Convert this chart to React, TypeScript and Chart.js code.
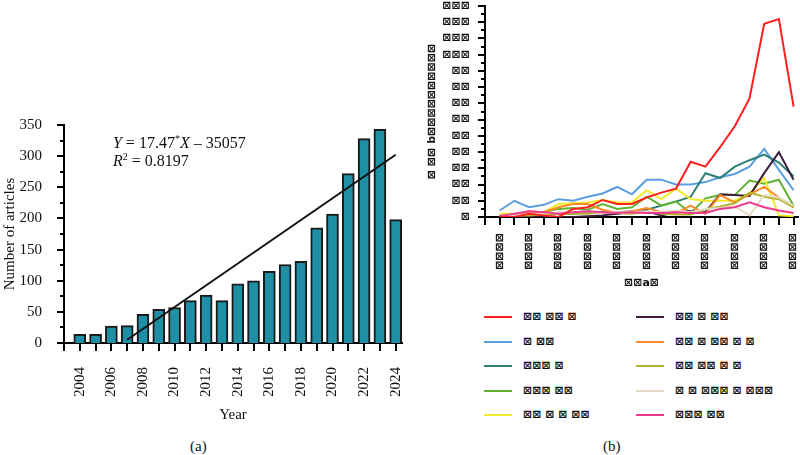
import React, { useEffect, useRef } from "react";
import { Chart, registerables } from "chart.js";

Chart.register(...registerables);

// ---------- Panel (a): articles published per year ----------
const years = [2004, 2005, 2006, 2007, 2008, 2009, 2010, 2011, 2012, 2013, 2014, 2015, 2016, 2017, 2018, 2019, 2020, 2021, 2022, 2023, 2024];
const articleCounts = [14, 14, 27, 28, 46, 54, 57, 68, 77, 68, 95, 100, 115, 126, 131, 185, 207, 272, 328, 343, 198];
const trendSlope = 17.47;
const trendIntercept = -35057;
const trendR2 = 0.8197;
const trendFrom = 2007;

// ---------- Panel (b): keyword frequency per year ----------
const kwRed = [0, 0, 2, 1, 0, 5, 6, 10.5, 8, 8, 12, 15, 17.5, 34, 31, 43, 56, 73, 119, 122, 68];
const kwBlue = [4, 10, 6, 7.5, 11, 10, 12.5, 14.5, 18.5, 14, 23, 23, 20, 20, 21.5, 24.5, 26.5, 31, 42, 29, 16.5];
const kwTeal = [1, 1, 1, 1, 2, 2, 3, 3, 3, 3.5, 4.5, 7, 9.5, 12.5, 27, 24, 31, 35, 38.5, 33.5, 25];
const kwGreen = [0.5, 1, 2, 3, 5, 5.5, 4.5, 8, 5, 6, 12.5, 7, 9.5, 2.5, 11.5, 13.5, 13.5, 22.5, 20.5, 23, 7];
const kwYellow = [2, 2, 3, 3, 8, 8.5, 9, 10.5, 9, 9, 16.5, 11, 17.5, 11, 10, 10, 10, 14.5, 24, 1, 0.5];
const kwPurple = [0, 0, 0, 0, 0, 0, 0.5, 1, 2, 3, 3.5, 1, 3, 3.5, 3, 14, 13.5, 13, 27, 40, 23];
const kwOrange = [1, 1.5, 3.5, 3, 6, 8, 8, 4.5, 2.5, 3.5, 5.5, 3, 2.5, 7, 2, 13.5, 9, 14, 18.5, 12, 6];
const kwOlive = [1, 1, 1, 1.5, 2, 2, 2, 3, 2.5, 2, 3, 2, 1.5, 1.5, 5, 6.5, 8.5, 15, 12.5, 11, 6];
const kwBeige = [1, 1, 2, 2, 3, 3, 3.5, 2.5, 3, 3, 3.5, 3, 4, 3, 5, 5.5, 6.5, 1, 13.5, 12, 7];
const kwPink = [0.5, 2, 3.5, 3, 2, 3, 3.5, 3, 2.5, 3, 2.5, 2.5, 3, 2.5, 2.5, 5, 6, 9, 6, 4, 2.5];

const kwLabels = [
  "⊠⊠ ⊠⊠ ⊠",
  "⊠ ⊠⊠",
  "⊠⊠⊠ ⊠",
  "⊠⊠⊠ ⊠⊠",
  "⊠⊠ ⊠ ⊠ ⊠⊠",
  "⊠⊠ ⊠ ⊠⊠",
  "⊠⊠ ⊠ ⊠⊠ ⊠ ⊠",
  "⊠⊠ ⊠⊠ ⊠ ⊠",
  "⊠ ⊠ ⊠⊠⊠ ⊠ ⊠⊠⊠",
  "⊠⊠⊠ ⊠⊠",
];
const kwColors = ["#ff1f1f", "#5b9ee0", "#2d7f77", "#62b232", "#f2ea2a", "#3d1c3d", "#ff8a2a", "#b3b22c", "#e5dcc5", "#ee3a8e"];
const kwValues = [kwRed, kwBlue, kwTeal, kwGreen, kwYellow, kwPurple, kwOrange, kwOlive, kwBeige, kwPink];

const kwAxisTitleY = "⊠ ⊠⊠ b⊠⊠⊠⊠⊠⊠⊠⊠⊠⊠";
const kwAxisTitleX = "⊠⊠a⊠";

const SERIF = '"Liberation Serif", "Times New Roman", serif';
const BOXFONT = '"DejaVu Sans", sans-serif';
const BOXSIZE = 11;

// digits of the panel (b) tick values are printed with the box glyph
const boxed = (s: string) => s.replace(/[0-9]/g, "⊠");

// Outward tick marks with long (major) and short (minor) lengths
const tickMarkPlugin = {
  id: "tickMarks",
  afterDraw(chart: any, _args: any, opts: any) {
    const ctx = chart.ctx;
    const area = chart.chartArea;
    ctx.save();
    ctx.strokeStyle = "#000";
    ctx.lineWidth = opts.width ?? 2;
    for (const axis of ["x", "y"]) {
      const cfg = opts[axis];
      if (!cfg) continue;
      const scale = chart.scales[axis];
      const n = Math.round((cfg.to - cfg.from) / cfg.step);
      for (let i = 0; i <= n; i++) {
        const v = cfg.from + i * cfg.step;
        const ratio = (v - cfg.from) / cfg.majorEvery;
        const isMajor = Math.abs(ratio - Math.round(ratio)) < 1e-6;
        const len = isMajor ? cfg.majorLen : cfg.minorLen;
        const p = Math.round(scale.getPixelForValue(v));
        ctx.beginPath();
        if (axis === "x") {
          ctx.moveTo(p, area.bottom);
          ctx.lineTo(p, area.bottom + len);
        } else {
          ctx.moveTo(area.left - len, p);
          ctx.lineTo(area.left, p);
        }
        ctx.stroke();
      }
    }
    ctx.restore();
  },
};

// Regression equation written inside panel (a)
const equationPlugin = {
  id: "equation",
  afterDatasetsDraw(chart: any, _args: any, opts: any) {
    const { ctx, scales } = chart;
    const x0 = scales.x.getPixelForValue(opts.atX);
    const size = opts.size;
    const reg = `${size}px ${SERIF}`;
    const ital = `italic ${size}px ${SERIF}`;
    const small = `${Math.round(size * 0.62)}px ${SERIF}`;
    ctx.save();
    ctx.fillStyle = "#111";
    ctx.textBaseline = "alphabetic";
    const run = (parts: { t: string; f: string; sup?: boolean }[], baseY: number) => {
      let cx = x0;
      for (const p of parts) {
        ctx.font = p.f;
        ctx.fillText(p.t, cx, baseY + (p.sup ? -size * 0.38 : 0));
        cx += ctx.measureText(p.t).width;
      }
    };
    run(
      [
        { t: "Y", f: ital },
        { t: ` = ${trendSlope}`, f: reg },
        { t: "*", f: small, sup: true },
        { t: "X", f: ital },
        { t: ` \u2013 ${Math.abs(trendIntercept)}`, f: reg },
      ],
      scales.y.getPixelForValue(opts.line1Y)
    );
    run(
      [
        { t: "R", f: ital },
        { t: "2", f: small, sup: true },
        { t: ` = ${trendR2}`, f: reg },
      ],
      scales.y.getPixelForValue(opts.line2Y)
    );
    ctx.restore();
  },
};

// keep the plot area exactly where the layout padding and axis sizes put it
const noScalePadding = (s: any) => {
  s.paddingTop = 0;
  s.paddingBottom = 0;
  s.paddingLeft = 0;
  s.paddingRight = 0;
};

function ArticlesChart() {
  const ref = useRef<HTMLCanvasElement | null>(null);
  useEffect(() => {
    if (!ref.current) return;
    const trendY = (x: number) => trendSlope * x + trendIntercept;
    const trendEnd = years[years.length - 1];
    const chart = new Chart(ref.current, {
      type: "bar",
      data: {
        datasets: [
          {
            type: "line",
            data: [
              { x: trendFrom, y: trendY(trendFrom) },
              { x: trendEnd, y: trendY(trendEnd) },
            ],
            borderColor: "#111",
            borderWidth: 2,
            pointRadius: 0,
            order: 0,
          } as any,
          {
            type: "bar",
            data: years.map((yr, i) => ({ x: yr, y: articleCounts[i] })),
            backgroundColor: "#1f8fa6",
            borderColor: "#1a1a1a",
            borderWidth: 2,
            barThickness: 12,
            order: 1,
          } as any,
        ],
      },
      options: {
        responsive: false,
        animation: false,
        layout: { padding: { top: 125, right: 18, left: 0, bottom: 0 } },
        plugins: {
          legend: { display: false },
          tooltip: { enabled: false },
          tickMarks: {
            x: { from: 2003, to: 2024, step: 1, majorEvery: 1, majorLen: 8, minorLen: 8 },
            y: { from: 0, to: 350, step: 25, majorEvery: 50, majorLen: 7, minorLen: 4 },
          },
          equation: { atX: 2006.1, line1Y: 313, line2Y: 284, size: 16 },
        } as any,
        scales: {
          x: {
            type: "linear",
            min: 2003,
            max: 2024.4,
            offset: false,
            grid: { display: false },
            border: { display: true, color: "#000", width: 2 },
            ticks: {
              stepSize: 1,
              autoSkip: false,
              includeBounds: false,
              minRotation: 90,
              maxRotation: 90,
              padding: 16,
              color: "#111",
              font: { family: SERIF, size: 15 },
              callback: (v: any) => (Number(v) % 2 === 0 ? String(v) : ""),
            },
            title: {
              display: true,
              text: "Year",
              color: "#111",
              font: { family: SERIF, size: 15 },
              padding: { top: 0, bottom: 6 },
            },
            afterFit: (s: any) => {
              s.height = 87;
              noScalePadding(s);
            },
          },
          y: {
            min: 0,
            max: 350,
            grid: { display: false },
            border: { display: true, color: "#000", width: 2 },
            ticks: {
              stepSize: 50,
              autoSkip: false,
              padding: 14,
              color: "#111",
              font: { family: SERIF, size: 15 },
            },
            title: {
              display: true,
              text: "Number of articles",
              color: "#111",
              font: { family: SERIF, size: 15 },
              padding: { top: 1, bottom: 0 },
            },
            afterFit: (s: any) => {
              s.width = 64;
              noScalePadding(s);
            },
          },
        },
      },
      plugins: [tickMarkPlugin, equationPlugin],
    });
    return () => chart.destroy();
  }, []);
  return <canvas ref={ref} width={420} height={430} style={{ position: "absolute", left: 0, top: 0 }} />;
}

function KeywordChart() {
  const ref = useRef<HTMLCanvasElement | null>(null);
  useEffect(() => {
    if (!ref.current) return;
    const chart = new Chart(ref.current, {
      type: "line",
      data: {
        datasets: kwValues.map((vals, k) => ({
          label: kwLabels[k],
          data: years.map((yr, i) => ({ x: yr, y: vals[i] })),
          borderColor: kwColors[k],
          backgroundColor: kwColors[k],
          borderWidth: 2,
          pointRadius: 0,
          tension: 0,
          order: k === 0 ? 0 : 10 - k,
        })),
      },
      options: {
        responsive: false,
        animation: false,
        layout: { padding: { top: 6, right: 2, left: 0, bottom: 0 } },
        plugins: {
          legend: { display: false },
          tooltip: { enabled: false },
          tickMarks: {
            x: { from: 2003, to: 2024, step: 1, majorEvery: 1, majorLen: 8, minorLen: 8 },
            y: { from: 0, to: 130, step: 5, majorEvery: 10, majorLen: 7, minorLen: 4 },
          },
        } as any,
        scales: {
          x: {
            type: "linear",
            min: 2003,
            max: 2024.3,
            grid: { display: false },
            border: { display: true, color: "#000", width: 2 },
            ticks: {
              stepSize: 1,
              autoSkip: false,
              includeBounds: false,
              minRotation: 90,
              maxRotation: 90,
              padding: 8,
              color: "#111",
              font: { family: BOXFONT, size: BOXSIZE, weight: "bold" },
              callback: (v: any) => (Number(v) % 2 === 0 ? boxed(String(v)) : ""),
            },
            title: {
              display: true,
              text: kwAxisTitleX,
              color: "#111",
              font: { family: BOXFONT, size: BOXSIZE, weight: "bold" },
              padding: { top: 0, bottom: 10 },
            },
            afterFit: (s: any) => {
              s.height = 83;
              noScalePadding(s);
            },
          },
          y: {
            min: 0,
            max: 130,
            grid: { display: false },
            border: { display: true, color: "#000", width: 2 },
            ticks: {
              stepSize: 10,
              autoSkip: false,
              padding: 7,
              color: "#111",
              font: { family: BOXFONT, size: BOXSIZE, weight: "bold" },
              callback: (v: any) => boxed(String(v)),
            },
            title: {
              display: true,
              text: kwAxisTitleY,
              color: "#111",
              font: { family: BOXFONT, size: BOXSIZE, weight: "bold" },
              padding: { top: 6, bottom: 0 },
            },
            afterFit: (s: any) => {
              s.width = 65;
              noScalePadding(s);
            },
          },
        },
      },
      plugins: [tickMarkPlugin],
    });
    return () => chart.destroy();
  }, []);
  return <canvas ref={ref} width={380} height={300} style={{ position: "absolute", left: 420, top: 0 }} />;
}

function KeywordLegend() {
  return (
    <>
      {kwLabels.map((label, k) => {
        const col = k < 5 ? 0 : 1;
        const row = k % 5;
        const left = col === 0 ? 484 : 636;
        const top = 317 + row * 24.5;
        return (
          <div key={k} style={{ position: "absolute", left, top: top - 8, height: 16, display: "flex", alignItems: "center" }}>
            <div style={{ width: 28, height: 2, background: kwColors[k] }} />
            <span
              style={{
                marginLeft: 11,
                fontFamily: BOXFONT,
                fontSize: BOXSIZE,
                fontWeight: "bold",
                color: "#111",
                whiteSpace: "pre",
                lineHeight: "16px",
              }}
            >
              {label}
            </span>
          </div>
        );
      })}
    </>
  );
}

export default function App() {
  return (
    <div
      style={{
        position: "fixed",
        left: 0,
        top: 0,
        width: 800,
        height: 455,
        background: "#fff",
        overflow: "hidden",
        fontFamily: SERIF,
      }}
    >
      <ArticlesChart />
      <KeywordChart />
      <KeywordLegend />
      <div style={{ position: "absolute", left: 190, top: 438, fontSize: 15, color: "#111", fontFamily: SERIF }}>(a)</div>
      <div style={{ position: "absolute", left: 603, top: 438, fontSize: 15, color: "#111", fontFamily: SERIF }}>(b)</div>
    </div>
  );
}
